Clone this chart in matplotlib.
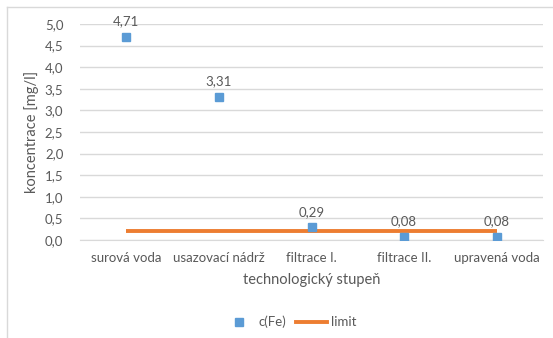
import matplotlib
matplotlib.use("Agg")
import matplotlib.pyplot as plt
from matplotlib.lines import Line2D
from matplotlib.ticker import MultipleLocator, FuncFormatter

categories = ["surová voda", "usazovací nádrž", "filtrace I.", "filtrace II.", "upravená voda"]
fe_values = [4.71, 3.31, 0.29, 0.08, 0.08]
limit_values = [0.2, 0.2, 0.2, 0.2, 0.2]
value_labels = ["4,71", "3,31", "0,29", "0,08", "0,08"]

plt.rcParams['font.family'] = ['Lato', 'DejaVu Sans']
text_color = "#595959"
blue = "#5B9BD5"
orange = "#ED7D31"

W, H = 553, 338
fig = plt.figure(figsize=(W / 100, H / 100), dpi=100)
ax = fig.add_axes([80 / W, 1 - 240 / H, 463 / W, 216 / H])

x = list(range(len(categories)))
ax.plot(x, limit_values, color=orange, lw=2.8, solid_capstyle="butt", label="limit", zorder=3)
ax.plot(x, fe_values, ls="none", marker="s", ms=5.2, color=blue, label="c(Fe)", zorder=4)

for xi, v, lab in zip(x, fe_values, value_labels):
    ax.annotate(lab, (xi, v), xytext=(0, 7), textcoords="offset points",
                ha="center", va="bottom", fontsize=9.5, color=text_color)

ax.set_xlim(-0.5, len(categories) - 0.5)
ax.set_ylim(0, 5.0)
ax.yaxis.set_major_locator(MultipleLocator(0.5))
ax.yaxis.set_major_formatter(FuncFormatter(lambda v, p: f"{v:.1f}".replace(".", ",")))
ax.set_xticks(x)
ax.set_xticklabels(categories)
ax.grid(axis="y", color="#D9D9D9", lw=1)
ax.set_axisbelow(True)
for s in ["top", "right", "left"]:
    ax.spines[s].set_visible(False)
ax.spines["bottom"].set_color("#D9D9D9")
ax.tick_params(length=0, colors=text_color, labelsize=9.5)
ax.tick_params(axis="x", pad=9)
ax.tick_params(axis="y", pad=12)

ax.set_xlabel("technologický stupeň", fontsize=10.5, color=text_color, labelpad=6)
ax.set_ylabel("koncentrace [mg/l]", fontsize=10.5, color=text_color, labelpad=4)

handles = [Line2D([], [], ls="none", marker="s", ms=5.2, color=blue),
           Line2D([], [], color=orange, lw=2.8)]
fig.legend(handles, ["c(Fe)", "limit"], loc="center", bbox_to_anchor=(290 / W, 1 - 322 / H),
           ncol=2, frameon=False, fontsize=9.5, labelcolor=text_color,
           handlelength=2.3, columnspacing=0.8, handletextpad=0.3)

# outer chart border
fig.add_artist(Line2D([7 / W, 7 / W], [0, 1 - 7 / H], color="#D9D9D9", lw=1))
fig.add_artist(Line2D([7 / W, 1], [1 - 7 / H, 1 - 7 / H], color="#D9D9D9", lw=1))

fig.savefig("out.png", dpi=100, facecolor="white")
